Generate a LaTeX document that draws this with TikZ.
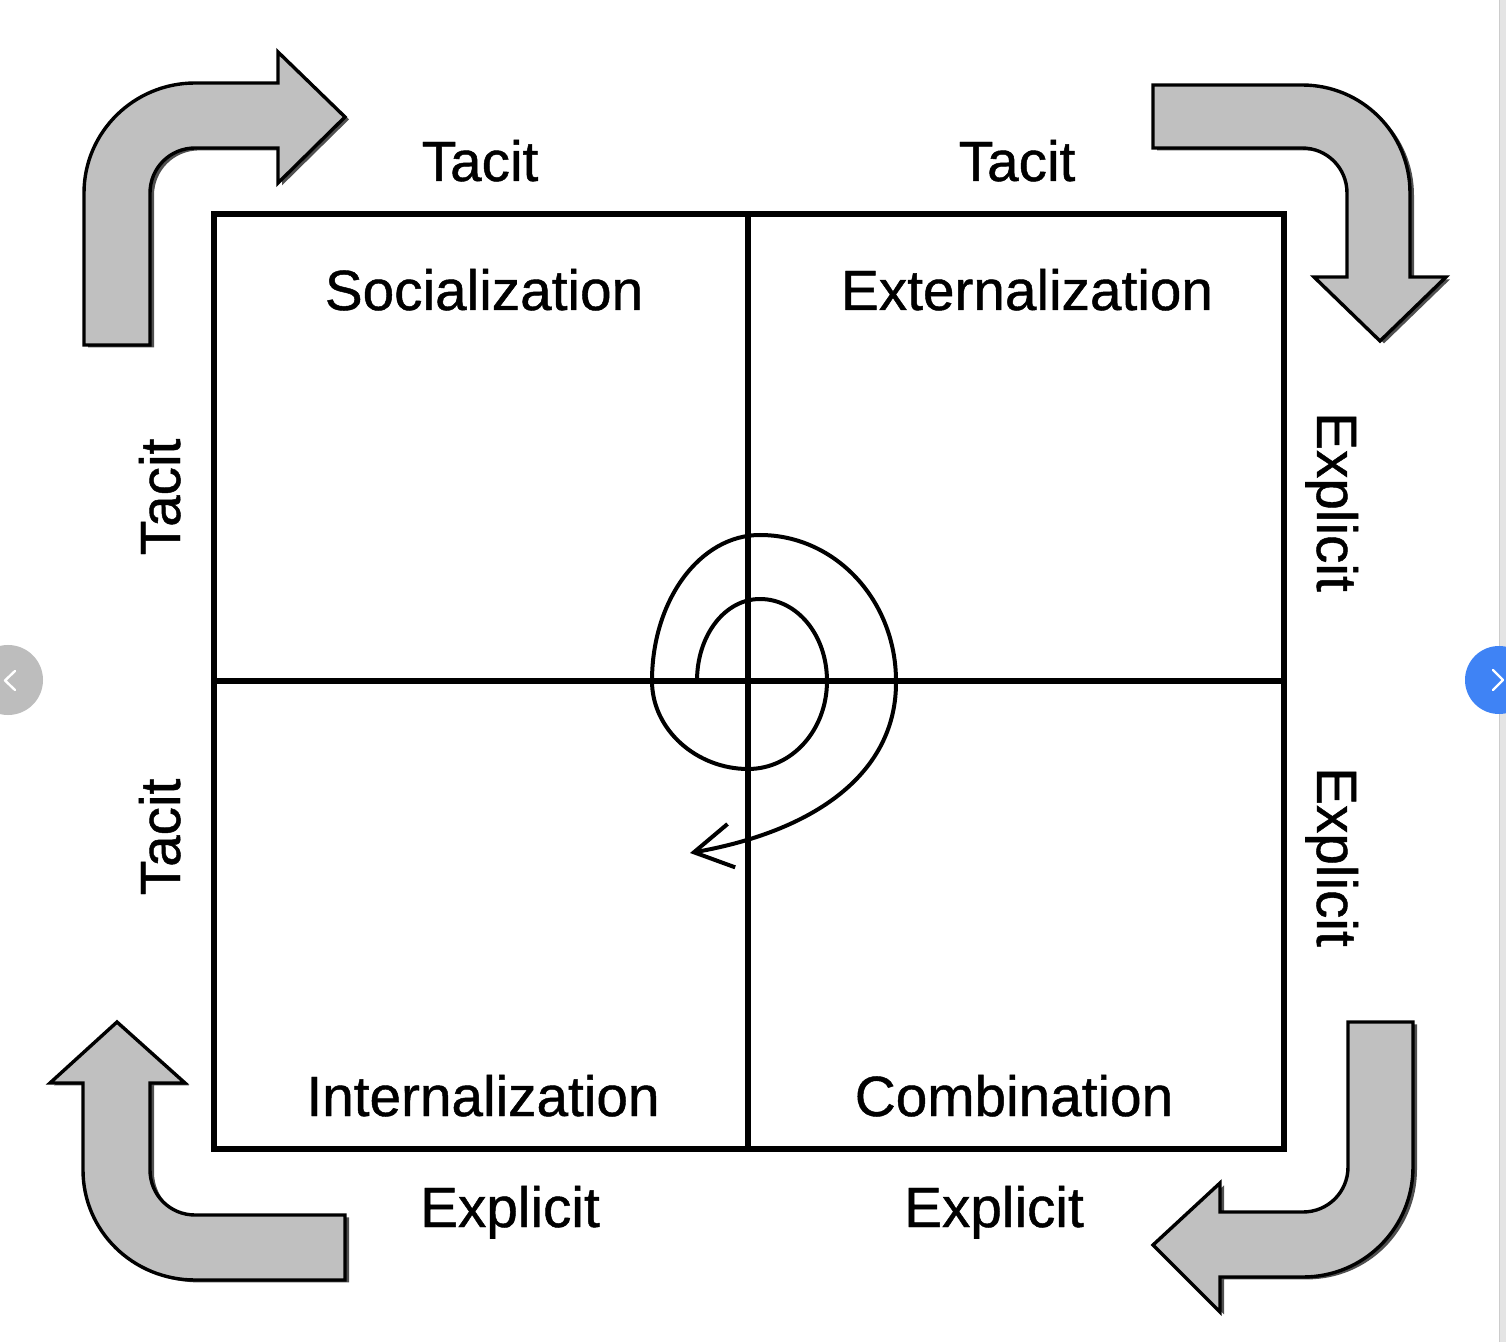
\documentclass[tikz,border=0pt]{standalone}
\usepackage{fontspec}
\setmainfont{Liberation Sans}
\newfontfamily\lblfont[FakeBold=0.8]{Liberation Sans}
\usetikzlibrary{arrows.meta}
\definecolor{arrowgray}{HTML}{C0C0C0}
\definecolor{shadowgray}{HTML}{505050}
\definecolor{navgray}{HTML}{BDBDBD}
\definecolor{navblue}{HTML}{3F83F5}
\definecolor{scrollgray}{HTML}{E4E4E4}
\begin{document}
\begin{tikzpicture}[x=0.5pt,y=-0.5pt,
  bigarrow/.style={draw=black, line width=1.7pt, fill=arrowgray, line join=miter,
    preaction={fill=shadowgray, transform canvas={xshift=2pt,yshift=-1.2pt}}},
  gridline/.style={line width=2.8pt},
  lbl/.style={font=\lblfont\fontsize{28.35}{34}\selectfont, inner sep=0pt, anchor=base},
  spiral/.style={line width=2pt, line cap=round, line join=round},
  chev/.style={draw=white, line width=1.2pt, line cap=round, line join=round}]
\useasboundingbox (0,0) rectangle (1506,1342);
\fill[white] (0,0) rectangle (1506,1342);

% scrollbar strip
\fill[scrollgray] (1499,0) rectangle (1506,1342);
\draw[gray!40, line width=0.4pt] (1499,0) -- (1499,1342);

% grid
\draw[gridline] (214,214) rectangle (1284,1149);
\coordinate (vt) at (748,214);
\coordinate (vb) at (748,1149);
\coordinate (hl) at (214,681);
\coordinate (hr) at (1284,681);
\draw[gridline] (vt) -- (vb);
\draw[gridline] (hl) -- (hr);

% corner arrows
\path[bigarrow] (84,345) -- (84,193) .. controls (84,132) and (134,83) .. (195,83)
  -- (278,83) -- (278,52) -- (345,117) -- (278,183) -- (278,148) -- (195,148)
  .. controls (170,148) and (150,168) .. (150,193) -- (150,345) -- cycle;

\path[bigarrow] (1153,85) -- (1302,85) .. controls (1362,85) and (1410,133) .. (1410,193)
  -- (1410,277) -- (1446,277) -- (1380,341) -- (1314,277) -- (1347,277) -- (1347,193)
  .. controls (1347,168) and (1327,148) .. (1302,148) -- (1153,148) -- cycle;

\path[bigarrow] (117,1022) -- (185,1083) -- (150,1083) -- (150,1170)
  .. controls (150,1195) and (170,1215) .. (195,1215) -- (345,1215) -- (345,1280)
  -- (195,1280) .. controls (133,1280) and (83,1231) .. (83,1170) -- (83,1083)
  -- (50,1083) -- cycle;

\path[bigarrow] (1348,1022) -- (1413,1022) -- (1413,1167)
  .. controls (1413,1228) and (1364,1277) .. (1303,1277) -- (1220,1277) -- (1220,1312)
  -- (1153,1245) -- (1220,1183) -- (1220,1212) -- (1303,1212)
  .. controls (1328,1212) and (1348,1192) .. (1348,1167) -- cycle;

% spiral
\coordinate (sstart) at (697,681);
\coordinate (send) at (690,853);
\draw[spiral, -{Straight Barb[length=19pt,width=22pt,line width=2pt]}]
  (sstart) .. controls (697,635) and (725,599) .. (760,599)
  .. controls (797,599) and (827,635) .. (827,681)
  .. controls (827,730) and (792,769) .. (748,769)
  .. controls (697,769) and (652,730) .. (652,681)
  .. controls (652,600) and (700,535) .. (760,535)
  .. controls (835,535) and (896,600) .. (896,681)
  .. controls (897,770) and (820,830) .. (send);

% quadrant labels
\node[lbl] (soc) at (484,310) {Socialization};
\node[lbl] (ext) at (1027,310) {Externalization};
\node[lbl] (int) at (483,1116) {Internalization};
\node[lbl] (com) at (1014,1116) {Combination};

% edge labels
\node[lbl] (t1) at (480,181) {Tacit};
\node[lbl] (t2) at (1017,181) {Tacit};
\node[lbl] (e1) at (510,1227) {Explicit};
\node[lbl] (e2) at (994,1227) {Explicit};
\node[lbl, rotate=90] (t3) at (180,497) {Tacit};
\node[lbl, rotate=90] (t4) at (180,837) {Tacit};
\node[lbl, rotate=-90] (e3) at (1317,502) {Explicit};
\node[lbl, rotate=-90] (e4) at (1317,857) {Explicit};

% carousel buttons
\fill[navgray] (8,680) circle[radius=17.5pt];
\draw[chev] (15,671) -- (5,680.5) -- (15,690);
\fill[navblue] (1499,680) circle[radius=17pt];
\draw[chev] (1493,670) -- (1503,680) -- (1493,690);
\end{tikzpicture}
\end{document}
